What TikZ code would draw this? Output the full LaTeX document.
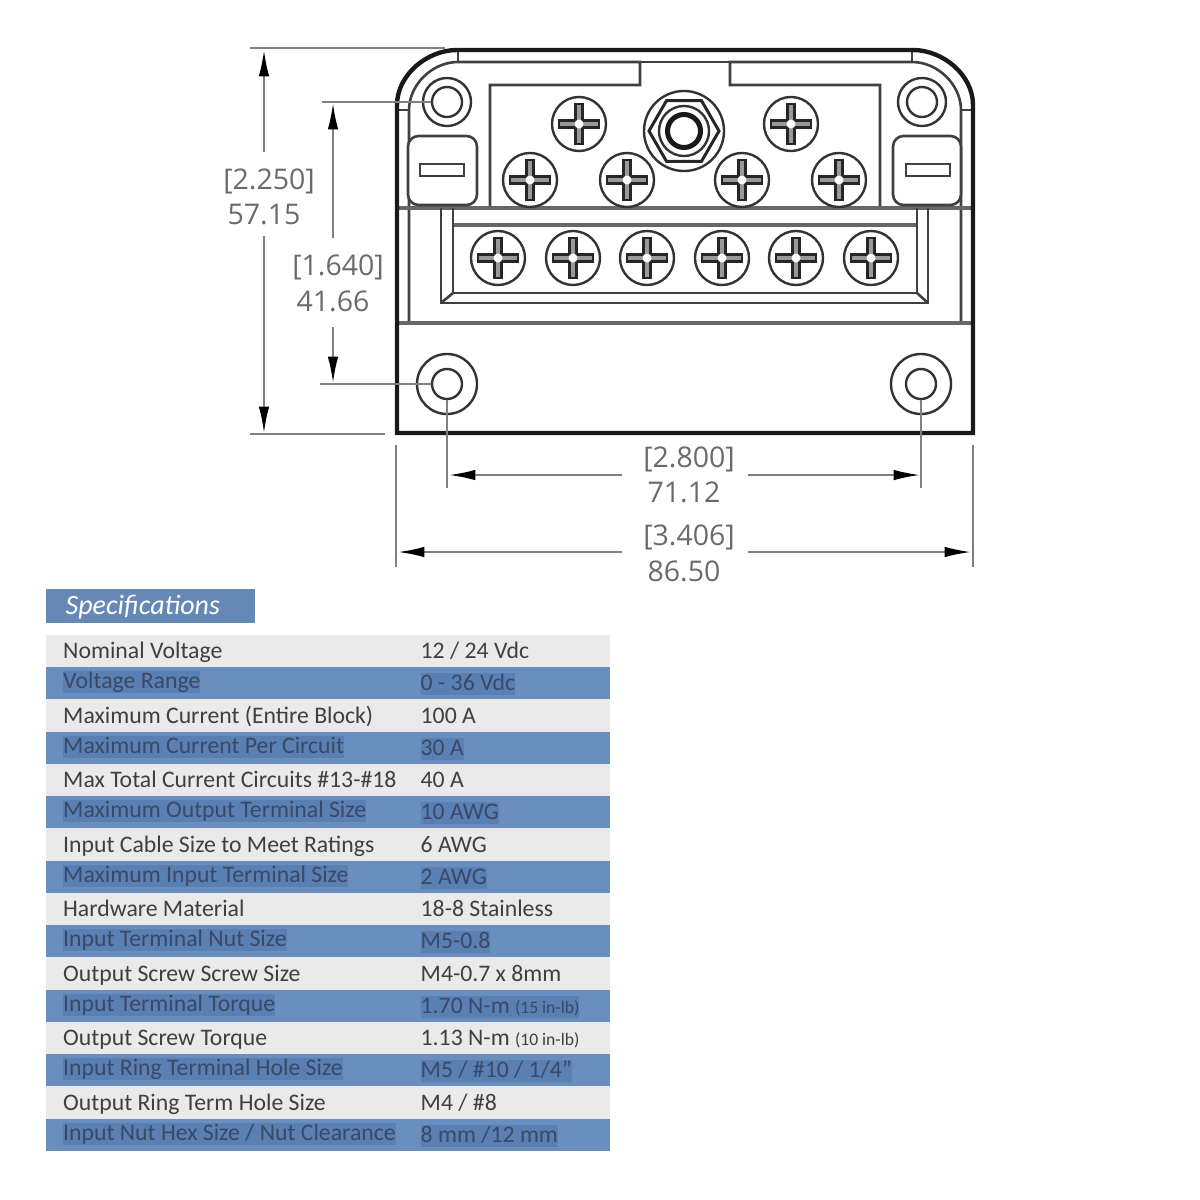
\documentclass[tikz,border=0pt]{standalone}
\usepackage{fontspec}
\usepackage{tikz}
\usetikzlibrary{arrows.meta,shapes.geometric}
\setmainfont{Carlito}
\newfontfamily\dimfont{Open Sans}
\definecolor{rowgrey}{HTML}{EAEAEA}
\definecolor{rowblue}{HTML}{6A8FBF}
\definecolor{markblue}{HTML}{5A7FB3}
\definecolor{inkblue}{HTML}{3A4966}
\definecolor{inkgrey}{HTML}{3F3F3F}
\definecolor{dimgrey}{HTML}{6A6A6A}
\def\px{0.2845pt}
\tikzset{
  wall/.style={line width=4.4*\px,draw=black!90},
  rib/.style={line width=2.6*\px,draw=black!75},
  band/.style={line width=4*\px,draw=black!60},
  ring/.style={circle,draw=black!80,line width=2.4*\px,inner sep=0pt},
  screwhead/.style={ring,minimum size=54*\px},
  dimlabel/.style={text=dimgrey,inner sep=0pt,font=\dimfont\fontsize{8.1}{10}\selectfont},
  extline/.style={line width=2*\px,draw=black!50},
  dimline/.style={line width=2*\px,draw=black!50,-{Latex[length=7.5pt,width=3pt,black]}},
  rowbar/.style={minimum width=564*\px,minimum height=32.25*\px,inner sep=0pt,draw=none},
  celltext/.style={anchor=base west,inner sep=0pt,font=\fontsize{6.75}{8}\selectfont},
  bluetext/.style={celltext,text=inkblue,fill=markblue,text height=5pt,text depth=1.3pt},
}
\newcommand{\screw}[3]{
  \node[screwhead] (#1) at (#2,#3) {};
  \draw[line width=9.5*\px,black!85] (#2-21,#3) -- (#2+21,#3);
  \draw[line width=9.5*\px,black!85] (#2,#3-21) -- (#2,#3+21);
  \draw[line width=3.5*\px,black!40] (#2-19,#3) -- (#2+19,#3);
  \draw[line width=3.5*\px,black!40] (#2,#3-19) -- (#2,#3+19);
  \fill[white] (#2,#3) circle (4.5*\px);
}
\newcommand{\lightrow}[3]{
  \pgfmathsetmacro{\rowy}{635+32.25*(#1-1)+16.1}
  \pgfmathsetmacro{\liney}{\rowy+7.5}
  \node[rowbar,fill=rowgrey] (row#1) at (328,\rowy) {};
  \node[celltext,text=inkgrey] (lab#1) at (62.5,\liney) {#2};
  \node[celltext,text=inkgrey] (val#1) at (420,\liney) {#3};
}
\newcommand{\bluerow}[3]{
  \pgfmathsetmacro{\rowy}{635+32.25*(#1-1)+16.1}
  \pgfmathsetmacro{\liney}{\rowy+5.5}
  \pgfmathsetmacro{\valy}{\rowy+7.5}
  \node[rowbar,fill=rowblue] (row#1) at (328,\rowy) {};
  \node[bluetext] (lab#1) at (62.5,\liney) {#2};
  \node[bluetext] (val#1) at (420,\valy) {#3};
}
\begin{document}
\begin{tikzpicture}[x=0.01cm,y=-0.01cm]
  \useasboundingbox (0,0) rectangle (1200,1200);

  % housing
  \draw[rib] (409,323) -- (409,110) .. controls (409,85) and (432,62) .. (458,62)
    -- (640,62) -- (640,85) -- (490,85) -- (490,208);
  \draw[rib] (961,323) -- (961,110) .. controls (961,85) and (938,62) .. (912,62)
    -- (730,62) -- (730,85) -- (880,85) -- (880,208);
  \draw[rib] (640,62) -- (730,62);
  \draw[rib] (458,50) -- (458,62);
  \draw[rib] (912,50) -- (912,62);
  \draw[rib] (397,110) -- (409,110);
  \draw[rib] (961,110) -- (973,110);
  \draw[band] (397,208) -- (973,208);
  \draw[band] (397,323) -- (973,323);
  \draw[wall] (397,433) -- (397,105) .. controls (397,75) and (427,50) .. (457,50)
    -- (913,50) .. controls (943,50) and (973,75) .. (973,105) -- (973,433) -- cycle;

  % terminal tray
  \draw[band] (453,225) -- (917,225);
  \draw[rib] (441,208) -- (441,303) -- (928,303) -- (928,208);
  \draw[rib] (453,208) -- (453,293) -- (917,293) -- (917,208);
  \draw[rib] (441,303) -- (453,293);
  \draw[rib] (928,303) -- (917,293);

  % mounting holes
  \node[ring,minimum size=48*\px] (topholel) at (447,102) {};
  \node[ring,minimum size=30*\px] (topborel) at (447,102) {};
  \node[ring,minimum size=48*\px] (topholer) at (922,102) {};
  \node[ring,minimum size=30*\px] (topborer) at (922,102) {};
  \node[ring,minimum size=60*\px] (lowholel) at (447,384) {};
  \node[ring,minimum size=30*\px] (lowborel) at (447,384) {};
  \node[ring,minimum size=60*\px] (lowholer) at (921,384) {};
  \node[ring,minimum size=30*\px] (lowborer) at (921,384) {};

  % tabs
  \draw[rib,fill=white,rounded corners=3pt] (408,136) rectangle (477,205);
  \draw[rib,fill=white,rounded corners=3pt] (893,136) rectangle (961,205);
  \draw[rib] (420,164) rectangle (464,176);
  \draw[rib] (906,164) rectangle (950,176);

  % input stud
  \node[ring,minimum size=80*\px] (studa) at (684,131) {};
  \node[regular polygon,regular polygon sides=6,draw=black!85,line width=3*\px,inner sep=0pt,minimum size=70*\px] (studb) at (684,131) {};
  \node[ring,minimum size=50*\px] (studc) at (684,131) {};
  \node[circle,draw=black!90,line width=5*\px,inner sep=0pt,minimum size=33*\px] (studd) at (684,131) {};

  % screws
  \screw{upa}{579}{124}
  \screw{upb}{791}{124}
  \screw{mida}{530}{180}
  \screw{midb}{627}{180}
  \screw{midc}{742}{180}
  \screw{midd}{839}{180}
  \screw{lowa}{498}{258}
  \screw{lowb}{573}{258}
  \screw{lowc}{647}{258}
  \screw{lowd}{722}{258}
  \screw{lowe}{796}{258}
  \screw{lowf}{871}{258}

  % dimensions
  \node[dimlabel] (overhi) at (269,181) {[2.250]};
  \node[dimlabel] (overhm) at (264,215) {57.15};
  \coordinate (overhtop) at (264,50);
  \coordinate (overhbot) at (264,433);
  \coordinate (overha) at (264,152);
  \coordinate (overhb) at (264,236);
  \draw[dimline] (overha) -- (overhtop);
  \draw[dimline] (overhb) -- (overhbot);
  \coordinate (exta) at (250,48);
  \coordinate (extb) at (445,48);
  \coordinate (extc) at (250,434);
  \coordinate (extd) at (385,434);
  \draw[extline] (exta) -- (extb);
  \draw[extline] (extc) -- (extd);

  \node[dimlabel] (holehi) at (338,267) {[1.640]};
  \node[dimlabel] (holehm) at (333,301) {41.66};
  \coordinate (holehtop) at (333,103);
  \coordinate (holehbot) at (333,383);
  \coordinate (holeha) at (333,238);
  \coordinate (holehb) at (333,327);
  \draw[dimline] (holeha) -- (holehtop);
  \draw[dimline] (holehb) -- (holehbot);
  \coordinate (exte) at (322,102);
  \draw[extline] (exte) -- (topborel);
  \coordinate (extf) at (320,384);
  \draw[extline] (extf) -- (lowborel);

  \node[dimlabel] (holewi) at (689,459) {[2.800]};
  \node[dimlabel] (holewm) at (684,492) {71.12};
  \coordinate (holewl) at (449,475);
  \coordinate (holewr) at (920,475);
  \coordinate (holewa) at (622,475);
  \coordinate (holewb) at (748,475);
  \draw[dimline] (holewa) -- (holewl);
  \draw[dimline] (holewb) -- (holewr);
  \coordinate (extg) at (447,488);
  \coordinate (exth) at (921,488);
  \draw[extline] (lowborel.south) -- (extg);
  \draw[extline] (lowborer.south) -- (exth);

  \node[dimlabel] (overwi) at (689,537) {[3.406]};
  \node[dimlabel] (overwm) at (684,571) {86.50};
  \coordinate (overwl) at (398,552);
  \coordinate (overwr) at (971,552);
  \coordinate (overwa) at (622,552);
  \coordinate (overwb) at (748,552);
  \draw[dimline] (overwa) -- (overwl);
  \draw[dimline] (overwb) -- (overwr);
  \coordinate (exti) at (396,445);
  \coordinate (extj) at (396,567);
  \coordinate (extk) at (973,445);
  \coordinate (extl) at (973,567);
  \draw[extline] (exti) -- (extj);
  \draw[extline] (extk) -- (extl);

  % specifications table
  \node[minimum width=209*\px,minimum height=34*\px,inner sep=0pt,fill=rowblue!95!black] (spechead) at (150.5,606) {};
  \node[anchor=base west,inner sep=0pt,text=white,font=\fontsize{7.95}{9}\selectfont\itshape] (spectitle) at (65,614) {Specifications};

  \lightrow{1}{Nominal Voltage}{12 / 24 Vdc}
  \bluerow{2}{Voltage Range}{0 - 36 Vdc}
  \lightrow{3}{Maximum Current (Entire Block)}{100 A}
  \bluerow{4}{Maximum Current Per Circuit}{30 A}
  \lightrow{5}{Max Total Current Circuits \#13-\#18}{40 A}
  \bluerow{6}{Maximum Output Terminal Size}{10 AWG}
  \lightrow{7}{Input Cable Size to Meet Ratings}{6 AWG}
  \bluerow{8}{Maximum Input Terminal Size}{2 AWG}
  \lightrow{9}{Hardware Material}{18-8 Stainless}
  \bluerow{10}{Input Terminal Nut Size}{M5-0.8}
  \lightrow{11}{Output Screw Screw Size}{M4-0.7 x 8mm}
  \bluerow{12}{Input Terminal Torque}{1.70 N-m {\fontsize{5}{6}\selectfont(15 in-lb)}}
  \lightrow{13}{Output Screw Torque}{1.13 N-m {\fontsize{5}{6}\selectfont(10 in-lb)}}
  \bluerow{14}{Input Ring Terminal Hole Size}{M5 / \#10 / 1/4\char34}
  \lightrow{15}{Output Ring Term Hole Size}{M4 / \#8}
  \bluerow{16}{Input Nut Hex Size / Nut Clearance}{8 mm /12 mm}
\end{tikzpicture}
\end{document}
